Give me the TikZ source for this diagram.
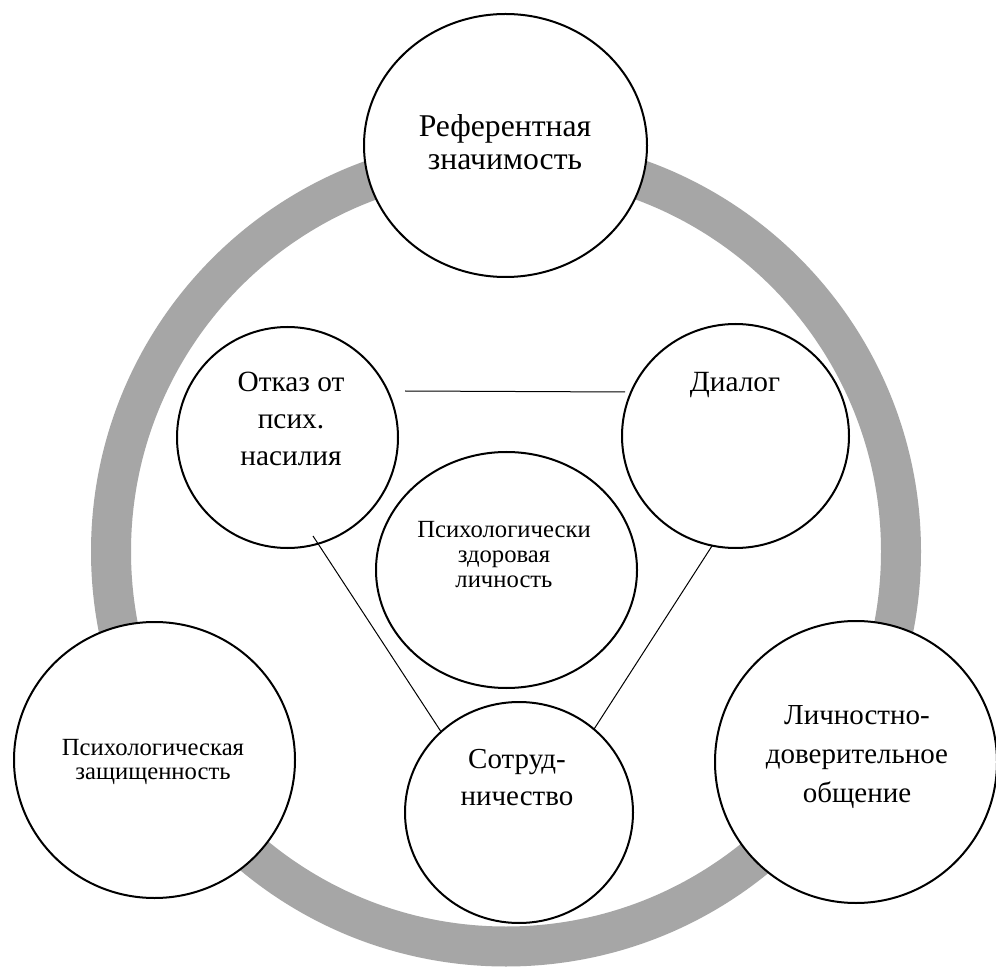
\documentclass[tikz,border=0pt]{standalone}
\usepackage{fontspec}
\setmainfont{Liberation Serif}
\newfontfamily\tnr{Liberation Serif}
\usetikzlibrary{shapes.geometric,calc}
\definecolor{ringgray}{RGB}{166,166,166}
\begin{document}
\begin{tikzpicture}[x=0.75pt,y=-0.75pt,
  bub/.style={ellipse,draw=black,line width=1.5pt,fill=white,inner sep=0pt,outer sep=0pt},
  lbl/.style={align=center,inner sep=0pt,anchor=base},
  conn/.style={line width=0.75pt}]
\path[use as bounding box,fill=white] (0,0) rectangle (996,969);
% grey ring
\draw[ringgray,line width=30pt] (506,551.5) circle[radius=296.25pt];
% circles
\node[bub,minimum width=212.25pt,minimum height=197.25pt] (ref) at (505.5,145.5) {};
\node[bub,minimum width=210.75pt,minimum height=207pt] (zashch) at (154.5,760) {};
\node[bub,minimum width=211.5pt,minimum height=211.5pt] (lichn) at (856,762) {};
\node[bub,minimum width=165.75pt,minimum height=165.75pt] (otkaz) at (287.5,437.5) {};
\node[bub,minimum width=170.25pt,minimum height=168pt] (dialog) at (735.5,436) {};
\node[bub,minimum width=171pt,minimum height=165.75pt] (sotr) at (519,812.5) {};
\node[bub,fill=none,minimum width=195.75pt,minimum height=177pt] (psy) at (506.5,570) {};
% labels (anchor base = baseline of last line)
\node[lbl,font=\tnr\fontsize{23.75pt}{24.75pt}\selectfont] (reft) at (505,170) {Референтная\\значимость};
\node[lbl,font=\tnr\fontsize{22pt}{27.75pt}\selectfont] (otkazt) at (291,465.5) {Отказ от\\псих.\\насилия};
\node[lbl,font=\tnr\fontsize{22pt}{27.75pt}\selectfont] (dialogt) at (735,392) {Диалог};
\node[lbl,font=\tnr\fontsize{18.5pt}{18.75pt}\selectfont] (psyt) at (504,587) {Психологически\\здоровая\\личность};
\node[lbl,font=\tnr\fontsize{18.5pt}{18pt}\selectfont] (zashcht) at (153,779) {Психологическая\\защищенность};
\node[lbl,font=\tnr\fontsize{21.75pt}{27.75pt}\selectfont] (sotrt) at (517,805) {Сотруд-\\ничество};
\node[lbl,font=\tnr\fontsize{21.75pt}{28.9pt}\selectfont] (lichnt) at (857,802) {Личностно-\\доверительное\\общение};
% connectors
\draw[conn] ($(otkaz.center)+(117.5,-46.5)$) -- ($(dialog.center)+(-110.5,-44)$);
\draw[conn] ($(otkaz.center)+(25.5,98.5)$) -- (sotr.134.8);
\draw[conn] (dialog.258.4) -- (sotr.48.7);
\end{tikzpicture}
\end{document}
